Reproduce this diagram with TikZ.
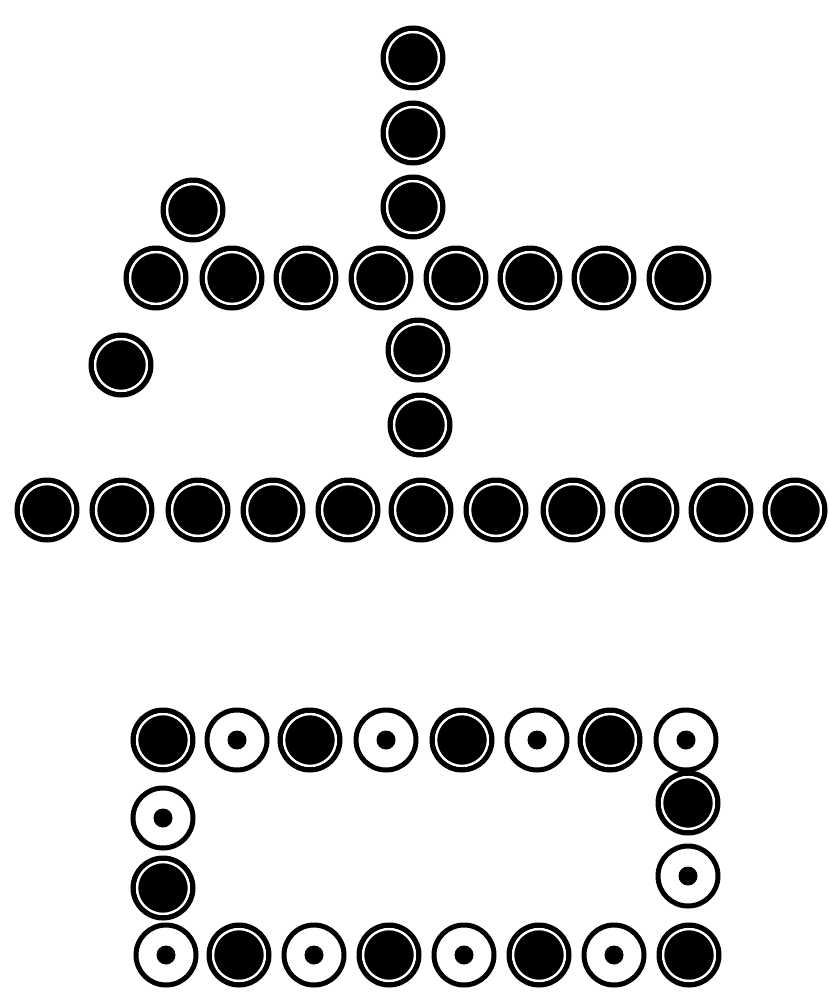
\documentclass[tikz,border=0pt]{standalone}
\begin{document}
\begin{tikzpicture}[x=1pt,y=-1pt,
  bk/.style={circle, minimum size=60pt, inner sep=0pt, fill=black, draw=black, line width=5pt,
    path picture={\draw[white, line width=2.5pt] (path picture bounding box.center) circle (26pt);}},
  wh/.style={circle, minimum size=60pt, inner sep=0pt, fill=white, draw=black, line width=5pt,
    path picture={\fill[black] (path picture bounding box.center) circle (9.5pt);}}]
\useasboundingbox[fill=white] (0,0) rectangle (828,996);
% top vertical stroke
\node[bk] (v1) at (413,58) {};
\node[bk] (v2) at (413,133) {};
\node[bk] (v3) at (413,207) {};
% diagonal dots
\node[bk] (d1) at (193,210) {};
\node[bk] (d2) at (121,365) {};
% upper row
\foreach \x [count=\i] in {156,232,306,381,456,530,604,679}
  \node[bk] (r\i) at (\x,278) {};
% lower vertical
\node[bk] (v4) at (418,350) {};
\node[bk] (v5) at (420,425) {};
% long row
\foreach \x [count=\i] in {47,122,198,273,348,421,496,573,647,721,795}
  \node[bk] (l\i) at (\x,510) {};
% box top row
\node[bk] (t1) at (163,740) {};
\node[wh] (t2) at (237,740) {};
\node[bk] (t3) at (310,740) {};
\node[wh] (t4) at (386,740) {};
\node[bk] (t5) at (462,740) {};
\node[wh] (t6) at (537,740) {};
\node[bk] (t7) at (610,740) {};
\node[wh] (t8) at (686,740) {};
% box sides
\node[wh] (s1) at (163,818) {};
\node[bk] (s2) at (163,888) {};
\node[bk] (s3) at (688,803) {};
\node[wh] (s4) at (688,876) {};
% box bottom row
\node[wh] (u1) at (166,955) {};
\node[bk] (u2) at (239,955) {};
\node[wh] (u3) at (314,955) {};
\node[bk] (u4) at (389,955) {};
\node[wh] (u5) at (464,955) {};
\node[bk] (u6) at (539,955) {};
\node[wh] (u7) at (614,955) {};
\node[bk] (u8) at (689,955) {};
\end{tikzpicture}
\end{document}
